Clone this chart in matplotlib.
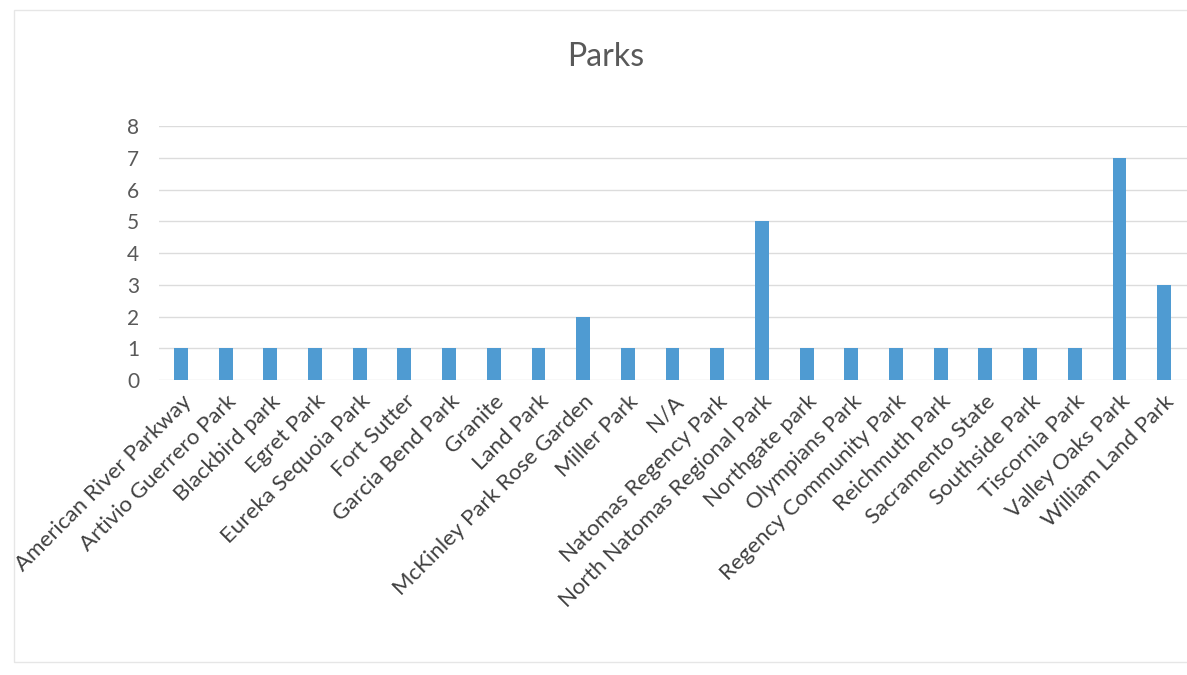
import matplotlib
matplotlib.use("Agg")
import matplotlib.pyplot as plt
import numpy as np

# Data
parks = [
    "American River Parkway", "Artivio Guerrero Park", "Blackbird park", "Egret Park",
    "Eureka Sequoia Park", "Fort Sutter", "Garcia Bend Park", "Granite", "Land Park",
    "McKinley Park Rose Garden", "Miller Park", "N/A", "Natomas Regency Park",
    "North Natomas Regional Park", "Northgate park", "Olympians Park",
    "Regency Community Park", "Reichmuth Park", "Sacramento State", "Southside Park",
    "Tiscornia Park", "Valley Oaks Park", "William Land Park",
]
counts = [1, 1, 1, 1, 1, 1, 1, 1, 1, 2, 1, 1, 1, 5, 1, 1, 1, 1, 1, 1, 1, 7, 3]
yticks = list(range(0, 9))

plt.rcParams['font.family'] = ['Lato', 'DejaVu Sans']

fig = plt.figure(figsize=(11.87, 6.75), dpi=100)
ax = fig.add_axes([0.1336, 0.437, 0.866, 0.376])

x = np.arange(len(parks))
ax.bar(x, counts, width=0.31, color='#4f9bd2', zorder=3)

ax.set_xlim(-0.5, len(parks) - 0.5)
ax.set_ylim(0, 8)
ax.set_yticks(yticks)
ax.set_xticks(x)
ax.set_xticklabels(parks, rotation=45, ha='right', rotation_mode='anchor',
                   fontsize=16, color='#404040')
ax.tick_params(axis='y', labelsize=15, colors='#595959', length=0, pad=14)
ax.tick_params(axis='x', length=0, pad=8)
ax.grid(axis='y', color='#dcdcdc', linewidth=1, zorder=0)
for s in ax.spines.values():
    s.set_visible(False)

fig.text(0.51, 0.915, "Parks", ha='center', va='center', fontsize=23, color='#595959')

# faint outer frame of the chart area
fig.patches.append(plt.Rectangle((0.012, 0.02), 0.99, 0.965, transform=fig.transFigure,
                                 fill=False, edgecolor='#e6e6e6', linewidth=1))

fig.savefig("out.png", dpi=100)
